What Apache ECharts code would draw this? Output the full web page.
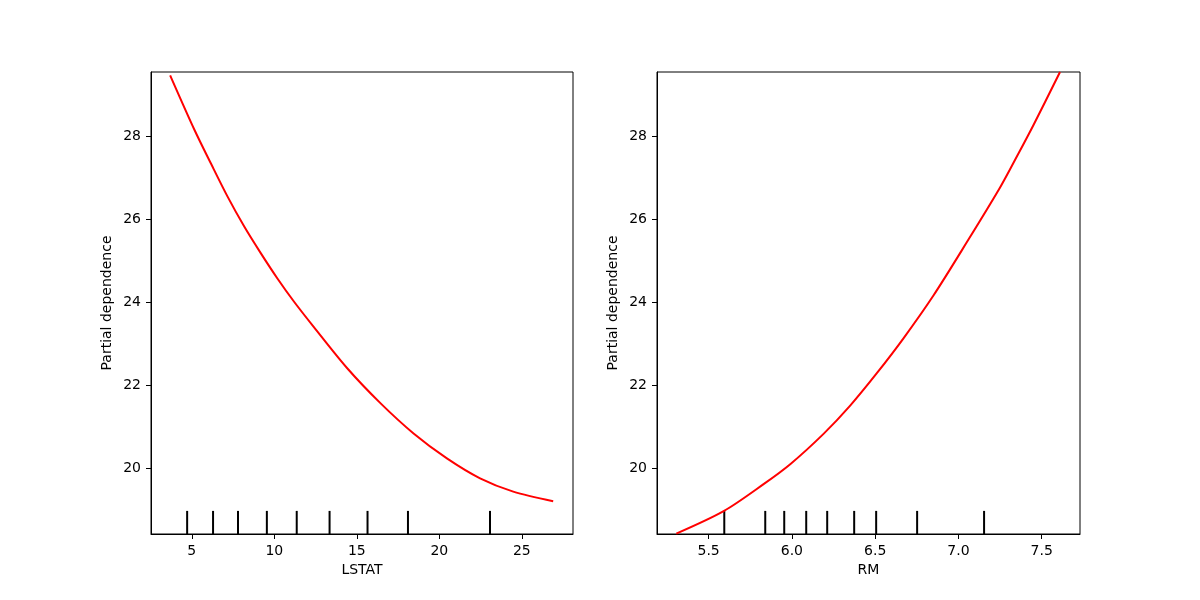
<!DOCTYPE html>
<html>
<head>
<meta charset="utf-8">
<script src="https://cdn.jsdelivr.net/npm/echarts@6/dist/echarts.min.js"></script>
<style>html,body{margin:0;padding:0;background:#fff}#c{width:1200px;height:600px}</style>
</head>
<body>
<div id="c"></div>
<script>
// ---- data ----
const lstatX  = [3.69, 5.16, 6.17, 7.17, 8.18, 9.18, 10.19, 11.20, 12.40, 14.42, 16.43, 18.44, 20.46, 22.47, 24.48, 26.90];
const lstatPD = [29.46, 28.15, 27.33, 26.54, 25.82, 25.18, 24.57, 24.01, 23.40, 22.41, 21.57, 20.84, 20.24, 19.76, 19.44, 19.21];
const rmX  = [5.306, 5.59, 5.83, 5.99, 6.19, 6.35, 6.51, 6.67, 6.85, 7.05, 7.25, 7.354, 7.45, 7.61];
const rmPD = [18.43, 18.97, 19.62, 20.10, 20.83, 21.51, 22.29, 23.13, 24.16, 25.44, 26.76, 27.53, 28.26, 29.54];
const lstatDeciles = [4.72, 6.29, 7.80, 9.55, 11.36, 13.35, 15.65, 18.10, 23.07];
const rmDeciles    = [5.594, 5.840, 5.954, 6.086, 6.212, 6.374, 6.506, 6.752, 7.154];
const yTicks = [20, 22, 24, 26, 28];
const lstatTicks = [5, 10, 15, 20, 25];
const rmTicks = [5.5, 6.0, 6.5, 7.0, 7.5];
const Y_MIN = 18.42, Y_MAX = 29.54;

const FONT = 'DejaVu Sans';
const txt = {color: '#000', fontFamily: FONT, fontSize: 14};

function xAxis(idx, min, max, ticks, name, fmt) {
  return {
    type: 'value', gridIndex: idx, min: min, max: max,
    name: name, nameLocation: 'middle', nameGap: 28, nameTextStyle: txt,
    axisLine: {show: true, onZero: false, lineStyle: {color: '#000', width: 1}},
    axisTick: {show: true, length: 5, customValues: ticks, lineStyle: {color: '#000', width: 1}},
    axisLabel: Object.assign({margin: 10, customValues: ticks, formatter: fmt}, txt),
    splitLine: {show: false}
  };
}
function yAxis(idx) {
  return {
    type: 'value', gridIndex: idx, min: Y_MIN, max: Y_MAX,
    name: 'Partial dependence', nameLocation: 'middle', nameGap: 37, nameTextStyle: txt,
    axisLine: {show: true, onZero: false, lineStyle: {color: '#000', width: 1}},
    axisTick: {show: true, length: 5, customValues: yTicks, lineStyle: {color: '#000', width: 1}},
    axisLabel: Object.assign({margin: 10, customValues: yTicks, formatter: v => String(Math.round(v))}, txt),
    splitLine: {show: false}
  };
}
function zip(a, b) { return a.map((v, i) => [v, b[i]]); }
function rug(vals, idx) {
  return {
    type: 'custom', xAxisIndex: idx, yAxisIndex: idx, silent: true,
    data: vals.map(v => [v, Y_MIN]),
    renderItem: function (params, api) {
      const p = api.coord([api.value(0), Y_MIN]);
      const h = params.coordSys.height * 0.05;
      return {type: 'line', shape: {x1: p[0], y1: p[1], x2: p[0], y2: p[1] - h},
              style: {stroke: '#000', lineWidth: 2}};
    }
  };
}
const lineStyle = {color: '#ff0000', width: 2};

const chart = echarts.init(document.getElementById('c'));
chart.setOption({
  animation: false,
  backgroundColor: '#fff',
  grid: [
    {left: 151, top: 72, width: 422, height: 462, show: true, borderColor: '#000', borderWidth: 1, backgroundColor: 'transparent'},
    {left: 657, top: 72, width: 423, height: 462, show: true, borderColor: '#000', borderWidth: 1, backgroundColor: 'transparent'}
  ],
  xAxis: [
    xAxis(0, 2.53, 28.10, lstatTicks, 'LSTAT', v => String(Math.round(v))),
    xAxis(1, 5.19, 7.73, rmTicks, 'RM', v => Number(v).toFixed(1))
  ],
  yAxis: [yAxis(0), yAxis(1)],
  series: [
    {type: 'line', xAxisIndex: 0, yAxisIndex: 0, data: zip(lstatX, lstatPD), showSymbol: false, smooth: 0.3, lineStyle: lineStyle, clip: true},
    {type: 'line', xAxisIndex: 1, yAxisIndex: 1, data: zip(rmX, rmPD), showSymbol: false, smooth: 0.3, lineStyle: lineStyle, clip: true},
    rug(lstatDeciles, 0),
    rug(rmDeciles, 1)
  ]
});
</script>
</body>
</html>
